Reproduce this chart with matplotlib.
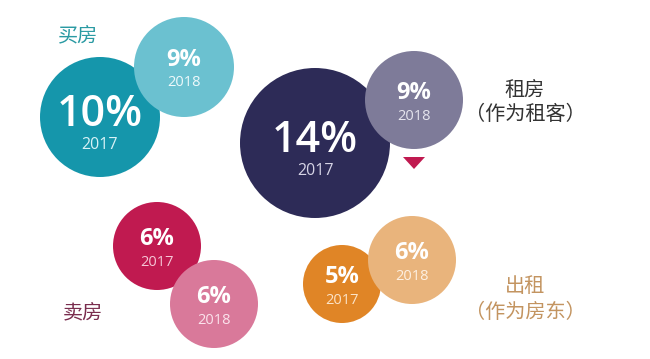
import matplotlib
matplotlib.use("Agg")
import matplotlib.pyplot as plt
from matplotlib.patches import Circle, Polygon

# ---- data ----
categories = ["买房", "租房", "卖房", "出租"]
category_notes = ["", "(作为租客)", "", "(作为房东)"]
years = ["2017", "2018"]
values_2017 = [10, 14, 6, 5]
values_2018 = [9, 9, 6, 6]

# ---- layout (pixel coords, y down) ----
centers_2017 = [(100, 117), (315, 143), (157, 246), (342, 284)]
centers_2018 = [(184, 67), (414, 100), (214, 304), (412, 260)]
radii_2017 = [60, 75, 44, 39]
radii_2018 = [50, 49, 44, 44]
colors_2017 = ["#1596ab", "#2d2b57", "#c01a50", "#e08526"]
colors_2018 = ["#6bc1d0", "#7e7b99", "#d9799a", "#e9b47c"]
year_colors_2017 = ["#d8f2f6", "#d6d4e6", "#f5c6d6", "#fbe3c8"]
year_colors_2018 = ["#eef9fb", "#e6e5ee", "#fbe3ec", "#fdf0e2"]
label_pos = [(78, 36), (525, 90), (83, 313), (525, 287)]
label_colors = ["#2a9aa3", "#333333", "#7a2d4e", "#c39460"]

W, H = 650, 359
fig = plt.figure(figsize=(W / 100, H / 100), dpi=100)
ax = fig.add_axes([0, 0, 1, 1])
ax.set_xlim(0, W)
ax.set_ylim(H, 0)
ax.set_aspect("equal")
ax.axis("off")

num_font = ["Open Sans", "DejaVu Sans"]
cjk_font = ["Noto Sans CJK SC", "DejaVu Sans"]


def draw_bubble(center, r, color, value, year, ycolor, big):
    ax.add_patch(Circle(center, r, facecolor=color, edgecolor="none", zorder=2))
    cx, cy = center
    if big:
        ax.text(cx, cy - 3, f"{value}%", color="white", fontsize=31,
                family=num_font, fontweight="semibold", ha="center", va="center", zorder=3)
        ax.text(cx, cy + 28, year, color=ycolor, fontsize=11.5,
                family=num_font, ha="center", va="center", zorder=3)
    else:
        ax.text(cx, cy - 7, f"{value}%", color="white", fontsize=17,
                family=num_font, fontweight="bold", ha="center", va="center", zorder=3)
        ax.text(cx, cy + 16, year, color=ycolor, fontsize=10.5,
                family=num_font, ha="center", va="center", zorder=3)


for i in range(len(categories)):
    big = values_2017[i] >= 10
    draw_bubble(centers_2017[i], radii_2017[i], colors_2017[i], values_2017[i],
                years[0], year_colors_2017[i], big)
    draw_bubble(centers_2018[i], radii_2018[i], colors_2018[i], values_2018[i],
                years[1], year_colors_2018[i], False)
    lx, ly = label_pos[i]
    ax.text(lx, ly, categories[i], color=label_colors[i], fontsize=14.5,
            family=cjk_font, ha="center", va="center", zorder=3)
    if category_notes[i]:
        ax.text(lx, ly + 25, category_notes[i].replace("(", "（").replace(")", "）"),
                color=label_colors[i], fontsize=14.5, family=cjk_font,
                ha="center", va="center", zorder=3)

# decline marker under rent 2018 bubble
tx = centers_2018[1][0]
ax.add_patch(Polygon([(tx - 11, 157), (tx + 11, 157), (tx, 169)], closed=True,
                     facecolor="#c01a50", edgecolor="none", zorder=3))

fig.savefig("out.png", dpi=100, facecolor="white")
